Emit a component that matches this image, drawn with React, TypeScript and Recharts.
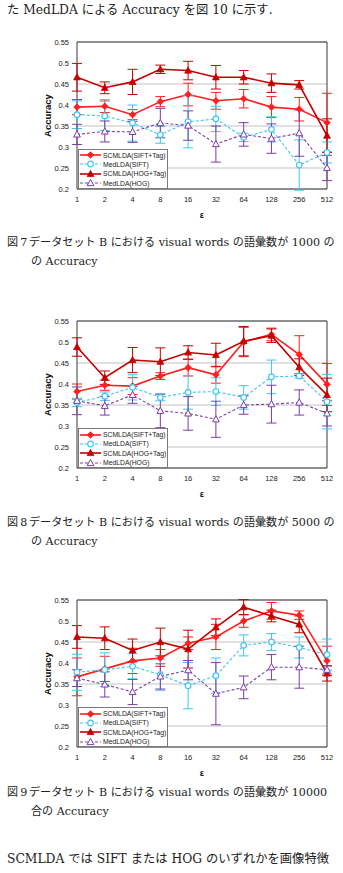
import React from 'react';
import {
  CartesianGrid,
  ErrorBar,
  Legend,
  Line,
  LineChart,
  ReferenceArea,
  XAxis,
  YAxis,
} from 'recharts';

const EPSILON = ['1', '2', '4', '8', '16', '32', '64', '128', '256', '512'];
const ACC_TICKS = [0.2, 0.25, 0.3, 0.35, 0.4, 0.45, 0.5, 0.55];

// 図7: visual words 1000
const SIFT_TAG_1000 = [0.395, 0.397, 0.377, 0.408, 0.425, 0.41, 0.415, 0.395, 0.39, 0.358];
const SIFT_TAG_1000_ERR = [0.018, 0.015, 0.012, 0.012, 0.027, 0.02, 0.022, 0.025, 0.028, 0.07];
const MED_SIFT_1000 = [0.377, 0.374, 0.357, 0.329, 0.36, 0.367, 0.323, 0.342, 0.257, 0.287];
const MED_SIFT_1000_ERR = [0.033, 0.035, 0.043, 0.02, 0.062, 0.03, 0.01, 0.03, 0.06, 0.025];
const HOG_TAG_1000 = [0.466, 0.441, 0.455, 0.485, 0.482, 0.466, 0.466, 0.452, 0.448, 0.327];
const HOG_TAG_1000_ERR = [0.033, 0.014, 0.03, 0.01, 0.022, 0.028, 0.016, 0.022, 0.01, 0.04];
const MED_HOG_1000 = [0.33, 0.337, 0.336, 0.357, 0.351, 0.307, 0.33, 0.32, 0.333, 0.25];
const MED_HOG_1000_ERR = [0.024, 0.025, 0.025, 0.035, 0.035, 0.043, 0.028, 0.035, 0.055, 0.03];

// 図8: visual words 5000
const SIFT_TAG_5000 = [0.382, 0.397, 0.395, 0.419, 0.439, 0.422, 0.5, 0.518, 0.47, 0.399];
const SIFT_TAG_5000_ERR = [0.018, 0.012, 0.02, 0.008, 0.02, 0.02, 0.035, 0.015, 0.045, 0.05];
const MED_SIFT_5000 = [0.356, 0.371, 0.392, 0.368, 0.38, 0.382, 0.368, 0.417, 0.419, 0.358];
const MED_SIFT_5000_ERR = [0.01, 0.01, 0.03, 0.008, 0.04, 0.033, 0.028, 0.04, 0.005, 0.065];
const HOG_TAG_5000 = [0.488, 0.415, 0.457, 0.453, 0.475, 0.469, 0.502, 0.515, 0.44, 0.374];
const HOG_TAG_5000_ERR = [0.022, 0.016, 0.03, 0.033, 0.016, 0.028, 0.035, 0.016, 0.02, 0.04];
const MED_HOG_5000 = [0.36, 0.348, 0.374, 0.336, 0.33, 0.316, 0.35, 0.352, 0.356, 0.33];
const MED_HOG_5000_ERR = [0.033, 0.022, 0.02, 0.04, 0.04, 0.043, 0.022, 0.045, 0.03, 0.03];

// 図9: visual words 10000
const SIFT_TAG_10000 = [0.367, 0.386, 0.405, 0.412, 0.447, 0.462, 0.5, 0.524, 0.514, 0.405];
const SIFT_TAG_10000_ERR = [0.045, 0.03, 0.03, 0.02, 0.015, 0.03, 0.015, 0.02, 0.01, 0.035];
const MED_SIFT_10000 = [0.378, 0.384, 0.392, 0.372, 0.346, 0.37, 0.442, 0.45, 0.437, 0.42];
const MED_SIFT_10000_ERR = [0.043, 0.04, 0.03, 0.037, 0.055, 0.042, 0.025, 0.02, 0.025, 0.037];
const HOG_TAG_10000 = [0.462, 0.459, 0.43, 0.45, 0.433, 0.485, 0.533, 0.512, 0.492, 0.375];
const HOG_TAG_10000_ERR = [0.027, 0.027, 0.027, 0.033, 0.045, 0.02, 0.018, 0.014, 0.02, 0.018];
const MED_HOG_10000 = [0.364, 0.349, 0.331, 0.368, 0.383, 0.327, 0.342, 0.39, 0.39, 0.384];
const MED_HOG_10000_ERR = [0.02, 0.03, 0.03, 0.03, 0.023, 0.074, 0.027, 0.03, 0.05, 0.01];

const SANS = '"Liberation Sans", Arial, sans-serif';
const SERIF = '"DejaVu Serif", "Liberation Serif", "Noto Sans CJK JP", serif';

type Shape = 'diamond' | 'circle' | 'triangle' | 'openTriangle';

const SERIES: { key: string; name: string; color: string; dash?: string; width: number; shape: Shape }[] = [
  { key: 'siftTag', name: 'SCMLDA(SIFT+Tag)', color: '#ff1f1f', width: 1.6, shape: 'diamond' },
  { key: 'medSift', name: 'MedLDA(SIFT)', color: '#3cc6f2', dash: '3 2', width: 1.1, shape: 'circle' },
  { key: 'hogTag', name: 'SCMLDA(HOG+Tag)', color: '#c40000', width: 1.6, shape: 'triangle' },
  { key: 'medHog', name: 'MedLDA(HOG)', color: '#7a3ea8', dash: '3 2', width: 1.1, shape: 'openTriangle' },
];

function buildRows(st: number[], ste: number[], ms: number[], mse: number[], ht: number[], hte: number[], mh: number[], mhe: number[]) {
  return EPSILON.map((eps, i) => ({
    eps,
    siftTag: st[i],
    siftTagErr: ste[i],
    medSift: ms[i],
    medSiftErr: mse[i],
    hogTag: ht[i],
    hogTagErr: hte[i],
    medHog: mh[i],
    medHogErr: mhe[i],
  }));
}

function Marker({ cx, cy, shape, color }: { cx?: number; cy?: number; shape: Shape; color: string }) {
  if (cx == null || cy == null) return null;
  if (shape === 'diamond') {
    return <path d={`M${cx},${cy - 3.3}L${cx + 3.3},${cy}L${cx},${cy + 3.3}L${cx - 3.3},${cy}Z`} fill={color} stroke={color} strokeWidth={0.8} />;
  }
  if (shape === 'circle') {
    return <circle cx={cx} cy={cy} r={2.8} fill="#fff" stroke={color} strokeWidth={1.2} />;
  }
  const tri = `M${cx},${cy - 3.6}L${cx + 3.4},${cy + 2.6}L${cx - 3.4},${cy + 2.6}Z`;
  if (shape === 'triangle') return <path d={tri} fill={color} stroke={color} strokeWidth={0.8} />;
  return <path d={tri} fill="#fff" stroke={color} strokeWidth={1} />;
}

function LegendBox() {
  return (
    <div
      style={{
        width: 90,
        height: 40,
        boxSizing: 'border-box',
        border: '1px solid #7a7a7a',
        background: '#fff',
        padding: '1px 0 0 0',
        fontFamily: SANS,
        fontSize: 6.8,
        color: '#222',
      }}
    >
      {SERIES.map((s) => (
        <div key={s.key} style={{ display: 'flex', alignItems: 'center', height: 9.3, whiteSpace: 'nowrap' }}>
          <svg width={23} height={8} style={{ flex: 'none' }}>
            <line x1={1} x2={22} y1={4} y2={4} stroke={s.color} strokeWidth={s.width} strokeDasharray={s.dash} />
            <Marker cx={11.5} cy={4} shape={s.shape} color={s.color} />
          </svg>
          <span style={{ marginLeft: 1 }}>{s.name}</span>
        </div>
      ))}
    </div>
  );
}

const PLOT_H = 147;

function AccuracyChart({ top, rows }: { top: number; rows: ReturnType<typeof buildRows> }) {
  return (
    <div style={{ position: 'absolute', left: 0, top: top - 5 }}>
      <LineChart width={343} height={5 + PLOT_H + 32} data={rows} margin={{ top: 5, right: 16, left: 0, bottom: 0 }}>
        <CartesianGrid vertical={false} stroke="#c2c2c2" />
        <XAxis
          dataKey="eps"
          interval={0}
          tickLine={false}
          axisLine={false}
          height={32}
          tick={{ fontSize: 7.5, fill: '#222', fontFamily: SANS }}
          label={{ value: 'ε', position: 'insideBottom', offset: 3, style: { fontSize: 9, fontWeight: 'bold', fill: '#111', fontFamily: SANS } }}
        />
        <YAxis
          domain={[0.2, 0.55]}
          ticks={ACC_TICKS}
          allowDataOverflow
          width={77}
          tickLine={false}
          axisLine={false}
          tick={{ fontSize: 7.5, fill: '#222', fontFamily: SANS }}
          label={{
            value: 'Accuracy',
            angle: -90,
            position: 'insideLeft',
            offset: 48,
            style: { textAnchor: 'middle', fontSize: 9.5, fontWeight: 'bold', fill: '#111', fontFamily: SANS },
          }}
        />
        <ReferenceArea y1={0.2} y2={0.55} fill="none" stroke="#3a3a3a" strokeWidth={1} />
        {SERIES.map((s) => (
          <Line
            key={s.key}
            dataKey={s.key}
            name={s.name}
            stroke={s.color}
            strokeWidth={s.width}
            strokeDasharray={s.dash}
            isAnimationActive={false}
            dot={(p: any) => <Marker key={`${s.key}-${p.index}`} cx={p.cx} cy={p.cy} shape={s.shape} color={s.color} />}
            activeDot={false}
          >
            <ErrorBar dataKey={`${s.key}Err`} width={5} stroke={s.color} strokeWidth={1} direction="y" isAnimationActive={false} />
          </Line>
        ))}
        <Legend
          layout="vertical"
          align="center"
          verticalAlign="middle"
          wrapperStyle={{ left: 78, top: 5 + PLOT_H - 40, width: 90, height: 40 }}
          content={() => <LegendBox />}
        />
      </LineChart>
    </div>
  );
}

const textLine = (top: number, left: number, size: number): React.CSSProperties => ({
  position: 'absolute',
  top,
  left,
  whiteSpace: 'nowrap',
  fontFamily: SERIF,
  fontSize: size,
  lineHeight: '14px',
  color: '#222',
});

const CAP = 11.1;
const BODY = 12.3;

function Caption({ top, num, line1, line2 }: { top: number; num: string; line1: string; line2: string }) {
  return (
    <>
      <div style={textLine(top, 7, CAP)}>{`図\u2009${num}`}</div>
      <div style={textLine(top, 29, CAP)}>{line1}</div>
      <div style={textLine(top + 19, 31, CAP)}>{line2}</div>
    </>
  );
}

export default function App() {
  const rows1000 = buildRows(SIFT_TAG_1000, SIFT_TAG_1000_ERR, MED_SIFT_1000, MED_SIFT_1000_ERR, HOG_TAG_1000, HOG_TAG_1000_ERR, MED_HOG_1000, MED_HOG_1000_ERR);
  const rows5000 = buildRows(SIFT_TAG_5000, SIFT_TAG_5000_ERR, MED_SIFT_5000, MED_SIFT_5000_ERR, HOG_TAG_5000, HOG_TAG_5000_ERR, MED_HOG_5000, MED_HOG_5000_ERR);
  const rows10000 = buildRows(SIFT_TAG_10000, SIFT_TAG_10000_ERR, MED_SIFT_10000, MED_SIFT_10000_ERR, HOG_TAG_10000, HOG_TAG_10000_ERR, MED_HOG_10000, MED_HOG_10000_ERR);

  return (
    <div style={{ position: 'absolute', left: 0, top: 0, width: 343, height: 873, overflow: 'hidden', background: '#fff' }}>
      <div style={textLine(3, 7, BODY)}>た MedLDA による Accuracy を図 10 に示す.</div>

      <AccuracyChart top={41.5} rows={rows1000} />
      <Caption top={236} num="7" line1="データセット B における visual words の語彙数が 1000 の" line2="の Accuracy" />

      <AccuracyChart top={321} rows={rows5000} />
      <Caption top={516} num="8" line1="データセット B における visual words の語彙数が 5000 の" line2="の Accuracy" />

      <AccuracyChart top={600} rows={rows10000} />
      <Caption top={786} num="9" line1="データセット B における visual words の語彙数が 10000" line2="合の Accuracy" />

      <div style={textLine(852, 7, BODY)}>SCMLDA では SIFT または HOG のいずれかを画像特徴</div>
    </div>
  );
}
